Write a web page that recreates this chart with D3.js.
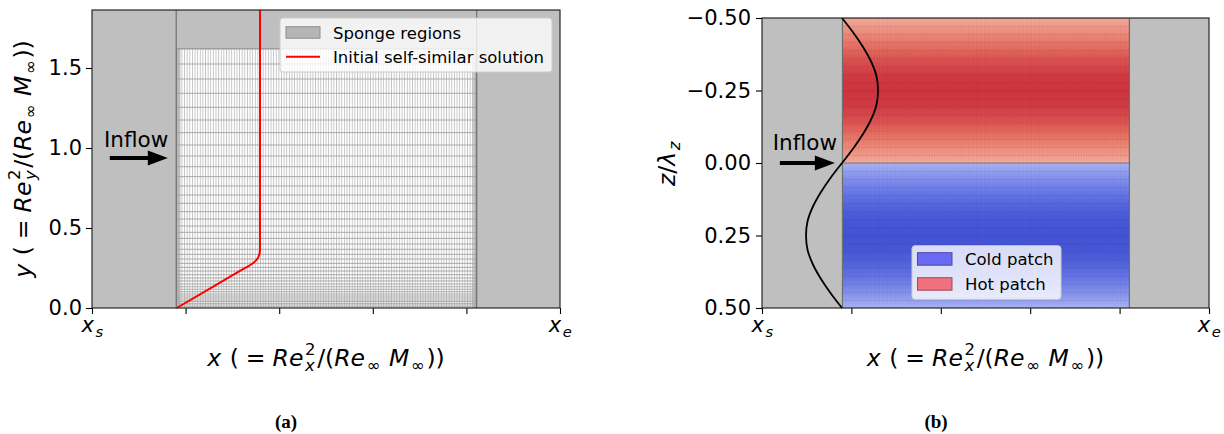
<!DOCTYPE html>
<html>
<head>
<meta charset="utf-8">
<script src="https://cdn.jsdelivr.net/npm/d3@7"></script>
<style>
  body { margin: 0; background: #fff; }
  svg { display: block; }
  text { font-family: "DejaVu Sans", sans-serif; fill: #000; }
  text.caption { font-family: "Liberation Serif", "Times New Roman", serif; font-weight: bold; }
</style>
</head>
<body>
<svg id="fig" width="1224" height="434"></svg>
<script>
// ---------------- data ----------------
// streamwise axis is normalised: 0 = x_s, 1 = x_e
const xTicks = [0, 0.2, 0.4, 0.6, 0.8, 1.0];
const xTickNames = { 0: "s", 1: "e" };          // x_s, x_e
const yTicksA = [0.0, 0.5, 1.0, 1.5];
const zTicksB = [-0.5, -0.25, 0.0, 0.25, 0.5];
const yMaxA = 1.8625;

// sponge layers
const spongeStart = 0.18;
const spongeEnd = 0.822;
const spongeTopY = 1.62;

// wall-normal mesh lines (stretched towards the wall)
const meshY = [1.62, 1.525, 1.431, 1.342, 1.254, 1.175, 1.096, 1.019, 0.95, 0.883,
  0.821, 0.7625, 0.706, 0.654, 0.602, 0.556, 0.5125, 0.473, 0.435, 0.4,
  0.367, 0.335, 0.306, 0.279, 0.254, 0.231, 0.208, 0.1875, 0.169, 0.15,
  0.133, 0.117, 0.102, 0.0875, 0.075, 0.0625, 0.05, 0.04, 0.029, 0.019, 0.008];
// streamwise lines clustered at inlet / outlet
const meshXEdge = [0.1808, 0.1818, 0.1832, 0.1852, 0.1878, 0.8142, 0.8168, 0.8188, 0.8203, 0.8213];

// initial self-similar profile (x position vs y)
const profileX = [0.181, 0.259, 0.309, 0.345, 0.354, 0.3575, 0.359, 0.359, 0.359];
const profileY = [0.0, 0.133, 0.22, 0.283, 0.31, 0.335, 0.365, 0.45, 1.8625];

// spanwise inflow perturbation (x position vs z/lambda_z)
const spanZ = [-0.5, -0.45, -0.4, -0.35, -0.3, -0.25, -0.2, -0.15, -0.1, -0.05, 0.0,
  0.05, 0.1, 0.15, 0.2, 0.25, 0.3, 0.35, 0.4, 0.45, 0.5];
const spanX = [0.179, 0.204, 0.226, 0.244, 0.256, 0.2595, 0.256, 0.244, 0.226, 0.204, 0.179,
  0.154, 0.132, 0.114, 0.102, 0.0985, 0.102, 0.114, 0.132, 0.154, 0.179];

// ---------------- helpers ----------------
const svg = d3.select("#fig");
const defs = svg.append("defs");

// lay out a mathtext-like label from runs; centred on (x, y)
function mathLabel(parent, runs, size, x, y, rotate) {
  const g = parent.append("g");
  const inner = g.append("g");
  let cx = 0;
  const small = size * 0.7;
  const pad = size * 0.07;
  function put(str, fs, dy, it) {
    const t = inner.append("text").attr("x", cx).attr("y", dy)
      .attr("font-size", fs).text(str);
    if (it) t.attr("font-style", "oblique");
    return t.node().getComputedTextLength();
  }
  runs.forEach(r => {
    if (r.sp !== undefined) { cx += r.sp * size; return; }
    if (r.sup !== undefined && r.sub !== undefined) {
      // stacked super/subscript in one text element
      cx += pad;
      const t = inner.append("text").attr("font-size", small);
      const s1 = t.append("tspan").attr("x", cx).attr("y", -size * 0.45).text(r.sup);
      if (r.supIt) s1.attr("font-style", "oblique");
      const w1 = s1.node().getComputedTextLength();
      const s2 = t.append("tspan").attr("x", cx).attr("y", size * 0.22).text(r.sub);
      if (r.subIt) s2.attr("font-style", "oblique");
      const w2 = s2.node().getComputedTextLength();
      cx += Math.max(w1, w2) + pad;
      return;
    }
    if (r.sup !== undefined) { cx += pad; cx += put(r.sup, small, -size * 0.45, r.supIt) + pad; return; }
    if (r.sub !== undefined) { cx += pad; cx += put(r.sub, small, size * 0.22, r.subIt) + pad; return; }
    cx += put(r.t, size, 0, r.it);
  });
  inner.attr("transform", `translate(${-cx / 2},0)`);
  g.attr("transform", `translate(${x},${y})` + (rotate ? ` rotate(${rotate})` : ""));
  return g;
}

const xTitleRuns = [
  { t: "x", it: 1 }, { sp: 0.36 }, { t: "(" }, { sp: 0.3 }, { t: "=" }, { sp: 0.3 },
  { t: "Re", it: 1 }, { sup: "2", sub: "x", subIt: 1 }, { t: "/(" },
  { t: "Re", it: 1 }, { sub: "∞" }, { sp: 0.3 }, { t: "M", it: 1 }, { sub: "∞" }, { t: "))" }
];
const yTitleRuns = [
  { t: "y", it: 1 }, { sp: 0.36 }, { t: "(" }, { sp: 0.3 }, { t: "=" }, { sp: 0.3 },
  { t: "Re", it: 1 }, { sup: "2", sub: "y", subIt: 1 }, { t: "/(" },
  { t: "Re", it: 1 }, { sub: "∞" }, { sp: 0.3 }, { t: "M", it: 1 }, { sub: "∞" }, { t: "))" }
];
const zTitleRuns = [{ t: "z", it: 1 }, { t: "/" }, { t: "λ", it: 1 }, { sub: "z", subIt: 1 }];

function arrow(g, x0, x1, y, headLen, headHalf, shaft) {
  const xb = x1 - headLen;
  g.append("path")
    .attr("d", `M${x0},${y - shaft / 2}L${xb},${y - shaft / 2}L${xb},${y - headHalf}L${x1},${y}` +
      `L${xb},${y + headHalf}L${xb},${y + shaft / 2}L${x0},${y + shaft / 2}Z`)
    .attr("fill", "#000");
}

function xAxisMath(g, xs, yBottom) {
  const ax = g.append("g").attr("transform", `translate(0,${yBottom})`)
    .call(d3.axisBottom(xs).tickValues(xTicks).tickSize(6).tickFormat(""));
  ax.select(".domain").remove();
  ax.selectAll(".tick line").attr("stroke", "#000").attr("stroke-width", 1.1);
  Object.keys(xTickNames).forEach(k => {
    mathLabel(g, [{ t: "x", it: 1 }, { sub: xTickNames[k], subIt: 1 }], 21,
      xs(+k) + 1, yBottom + 24);
  });
}

const SPONGE = "#bfbfbf";
const EDGE = "#6f6f6f";

// ================= panel (a) =================
const A = { x0: 92, x1: 560, y0: 10, y1: 308 };
const xA = d3.scaleLinear().domain([0, 1]).range([A.x0, A.x1]);
const yA = d3.scaleLinear().domain([0, yMaxA]).range([A.y1, A.y0]);
const gA = svg.append("g");

// fine streamwise mesh texture
const hatch = defs.append("pattern").attr("id", "meshHatch")
  .attr("patternUnits", "userSpaceOnUse").attr("width", 2.62).attr("height", 10)
  .attr("patternTransform", `translate(${xA(spongeStart)},0)`);
hatch.append("rect").attr("width", 2.62).attr("height", 10).attr("fill", "#fff");
hatch.append("rect").attr("x", 0).attr("width", 0.9).attr("height", 10).attr("fill", "#c2c2c2");

gA.append("rect")
  .attr("x", xA(spongeStart)).attr("y", yA(spongeTopY))
  .attr("width", xA(spongeEnd) - xA(spongeStart)).attr("height", yA(0) - yA(spongeTopY))
  .attr("fill", "url(#meshHatch)");

gA.append("g").selectAll("line").data(meshXEdge).join("line")
  .attr("x1", d => xA(d)).attr("x2", d => xA(d))
  .attr("y1", yA(spongeTopY)).attr("y2", yA(0))
  .attr("stroke", "#a8a8a8").attr("stroke-width", 0.8);

gA.append("g").selectAll("line").data(meshY).join("line")
  .attr("x1", xA(spongeStart)).attr("x2", xA(spongeEnd))
  .attr("y1", d => yA(d)).attr("y2", d => yA(d))
  .attr("stroke", "#a3a3a3").attr("stroke-width", 0.9);

// sponge regions
const spongesA = [
  { x0: 0, x1: spongeStart, y0: 0, y1: yMaxA },
  { x0: spongeEnd, x1: 1, y0: 0, y1: yMaxA },
  { x0: spongeStart, x1: spongeEnd, y0: spongeTopY, y1: yMaxA }
];
gA.append("g").selectAll("rect").data(spongesA).join("rect")
  .attr("x", d => xA(d.x0)).attr("y", d => yA(d.y1))
  .attr("width", d => xA(d.x1) - xA(d.x0)).attr("height", d => yA(d.y0) - yA(d.y1))
  .attr("fill", SPONGE);
[spongeStart, spongeEnd].forEach(v => {
  gA.append("line").attr("x1", xA(v)).attr("x2", xA(v)).attr("y1", A.y0).attr("y2", A.y1)
    .attr("stroke", EDGE).attr("stroke-width", 1.2);
});
gA.append("line").attr("x1", xA(spongeStart)).attr("x2", xA(spongeEnd))
  .attr("y1", yA(spongeTopY)).attr("y2", yA(spongeTopY))
  .attr("stroke", "#8a8a8a").attr("stroke-width", 0.9);

// self-similar profile
const profile = profileX.map((x, i) => ({ x, y: profileY[i] }));
gA.append("path").datum(profile)
  .attr("d", d3.line().x(d => xA(d.x)).y(d => yA(d.y)).curve(d3.curveMonotoneY))
  .attr("fill", "none").attr("stroke", "#ff0000").attr("stroke-width", 2);

// inflow annotation
gA.append("text").attr("x", xA(0.0256)).attr("y", yA(1.006)).attr("font-size", 21.5).text("Inflow");
arrow(gA, xA(0.038), xA(0.162), yA(0.9375), 20, 7.5, 4);

// legend
const legA = gA.append("g").attr("transform", `translate(${A.x1 - 280},${A.y0 + 8})`);
legA.append("rect").attr("width", 272).attr("height", 54).attr("rx", 3)
  .attr("fill", "#fff").attr("fill-opacity", 0.8).attr("stroke", "#cccccc").attr("stroke-width", 1);
legA.append("rect").attr("x", 6).attr("y", 8.7).attr("width", 34).attr("height", 11.5)
  .attr("fill", "#b5b5b5").attr("stroke", "#8e8e8e").attr("stroke-width", 1);
legA.append("line").attr("x1", 6).attr("x2", 40).attr("y1", 38.7).attr("y2", 38.7)
  .attr("stroke", "#ff0000").attr("stroke-width", 2);
legA.append("text").attr("x", 53).attr("y", 20.5).attr("font-size", 16.5).text("Sponge regions");
legA.append("text").attr("x", 53).attr("y", 44.8).attr("font-size", 16.5).text("Initial self-similar solution");

// axes
gA.append("g").attr("transform", `translate(${A.x0},0)`)
  .call(d3.axisLeft(yA).tickValues(yTicksA).tickSize(6).tickPadding(4).tickFormat(d3.format(".1f")))
  .call(g => {
    g.select(".domain").remove();
    g.selectAll(".tick line").attr("stroke", "#000").attr("stroke-width", 1.1);
    g.selectAll(".tick text").attr("font-size", 21).attr("fill", "#000");
  });
xAxisMath(gA, xA, A.y1);
gA.append("rect").attr("x", A.x0).attr("y", A.y0).attr("width", A.x1 - A.x0).attr("height", A.y1 - A.y0)
  .attr("fill", "none").attr("stroke", "#262626").attr("stroke-width", 1.2);

mathLabel(gA, xTitleRuns, 23.5, (A.x0 + A.x1) / 2, 366);
mathLabel(gA, yTitleRuns, 23.5, 31, (A.y0 + A.y1) / 2, -90);
gA.append("text").attr("class", "caption").attr("x", 286).attr("y", 428).attr("text-anchor", "middle")
  .attr("font-size", 19).text("(a)");

// ================= panel (b) =================
const B = { x0: 762, x1: 1209, y0: 18, y1: 308 };
const xB = d3.scaleLinear().domain([0, 1]).range([B.x0, B.x1]);
const zB = d3.scaleLinear().domain([-0.5, 0.5]).range([B.y0, B.y1]);
const gB = svg.append("g");

// perturbation amplitude along z, taken from the inflow profile
const x0Span = spanX[0];
const ampMax = d3.max(spanX, v => Math.abs(v - x0Span));
const hotColor = d3.scaleLinear().domain([0, 0.5, 1]).range(["#f4ab9d", "#ea7a68", "#d0343f"]);
const coldColor = d3.scaleLinear().domain([0, 0.5, 1]).range(["#a9b3f4", "#7080ea", "#4353d6"]);

function patchGradient(id, zLo, zHi, colour) {
  const grad = defs.append("linearGradient").attr("id", id)
    .attr("gradientUnits", "userSpaceOnUse")
    .attr("x1", 0).attr("x2", 0).attr("y1", zB(zLo)).attr("y2", zB(zHi));
  spanZ.forEach((z, i) => {
    if (z < zLo - 1e-9 || z > zHi + 1e-9) return;
    grad.append("stop").attr("offset", (z - zLo) / (zHi - zLo))
      .attr("stop-color", colour(Math.abs(spanX[i] - x0Span) / ampMax));
  });
}
patchGradient("hotGrad", -0.5, 0, hotColor);
patchGradient("coldGrad", 0, 0.5, coldColor);

const patches = [
  { z0: -0.5, z1: 0, fill: "url(#hotGrad)" },
  { z0: 0, z1: 0.5, fill: "url(#coldGrad)" }
];
gB.append("g").selectAll("rect").data(patches).join("rect")
  .attr("x", xB(spongeStart)).attr("y", d => zB(d.z0))
  .attr("width", xB(spongeEnd) - xB(spongeStart)).attr("height", d => zB(d.z1) - zB(d.z0))
  .attr("fill", d => d.fill);

// mesh texture on the patches
const rowH = (zB(0.5) - zB(-0.5)) / 36;
const rows = defs.append("pattern").attr("id", "rowLines")
  .attr("patternUnits", "userSpaceOnUse").attr("width", 10).attr("height", rowH)
  .attr("patternTransform", `translate(0,${B.y0})`);
rows.append("rect").attr("width", 10).attr("height", 0.9).attr("fill", "#000").attr("fill-opacity", 0.07);
const cols = defs.append("pattern").attr("id", "colLines")
  .attr("patternUnits", "userSpaceOnUse").attr("width", 2.62).attr("height", 10)
  .attr("patternTransform", `translate(${xB(spongeStart)},0)`);
cols.append("rect").attr("width", 0.8).attr("height", 10).attr("fill", "#000").attr("fill-opacity", 0.04);
["url(#rowLines)", "url(#colLines)"].forEach(f => {
  gB.append("rect").attr("x", xB(spongeStart)).attr("y", zB(-0.5))
    .attr("width", xB(spongeEnd) - xB(spongeStart)).attr("height", zB(0.5) - zB(-0.5))
    .attr("fill", f);
});
gB.append("line").attr("x1", xB(spongeStart)).attr("x2", xB(spongeEnd))
  .attr("y1", zB(0)).attr("y2", zB(0)).attr("stroke", "#7a7a7a").attr("stroke-width", 1);

// sponges
const spongesB = [{ x0: 0, x1: spongeStart }, { x0: spongeEnd, x1: 1 }];
gB.append("g").selectAll("rect").data(spongesB).join("rect")
  .attr("x", d => xB(d.x0)).attr("y", B.y0)
  .attr("width", d => xB(d.x1) - xB(d.x0)).attr("height", B.y1 - B.y0)
  .attr("fill", SPONGE);
[spongeStart, spongeEnd].forEach(v => {
  gB.append("line").attr("x1", xB(v)).attr("x2", xB(v)).attr("y1", B.y0).attr("y2", B.y1)
    .attr("stroke", EDGE).attr("stroke-width", 1.2);
});

// inflow perturbation profile
const span = spanZ.map((z, i) => ({ z, x: spanX[i] }));
gB.append("path").datum(span)
  .attr("d", d3.line().x(d => xB(d.x)).y(d => zB(d.z)).curve(d3.curveCatmullRom))
  .attr("fill", "none").attr("stroke", "#000").attr("stroke-width", 1.8);

gB.append("text").attr("x", xB(0.024)).attr("y", zB(-0.044)).attr("font-size", 21.5).text("Inflow");
arrow(gB, xB(0.04), xB(0.163), zB(0), 20, 7.5, 4);

// legend
const legB = gB.append("g").attr("transform", `translate(912,245.7)`);
legB.append("rect").attr("width", 149).attr("height", 53.6).attr("rx", 3)
  .attr("fill", "#fff").attr("fill-opacity", 0.8).attr("stroke", "#cccccc").attr("stroke-width", 1);
legB.append("rect").attr("x", 5.5).attr("y", 7).attr("width", 34.5).attr("height", 12.5)
  .attr("fill", "#6a6af4").attr("stroke", "#4b4b9c").attr("stroke-width", 1);
legB.append("rect").attr("x", 5.5).attr("y", 32).attr("width", 34.5).attr("height", 12.5)
  .attr("fill", "#f0717e").attr("stroke", "#9c4c54").attr("stroke-width", 1);
legB.append("text").attr("x", 53).attr("y", 19.8).attr("font-size", 16.5).text("Cold patch");
legB.append("text").attr("x", 53).attr("y", 44.8).attr("font-size", 16.5).text("Hot patch");

// axes
gB.append("g").attr("transform", `translate(${B.x0},0)`)
  .call(d3.axisLeft(zB).tickValues(zTicksB).tickSize(6).tickPadding(5).tickFormat(d3.format(".2f")))
  .call(g => {
    g.select(".domain").remove();
    g.selectAll(".tick line").attr("stroke", "#000").attr("stroke-width", 1.1);
    g.selectAll(".tick text").attr("font-size", 21).attr("fill", "#000");
  });
xAxisMath(gB, xB, B.y1);
gB.append("rect").attr("x", B.x0).attr("y", B.y0).attr("width", B.x1 - B.x0).attr("height", B.y1 - B.y0)
  .attr("fill", "none").attr("stroke", "#262626").attr("stroke-width", 1.2);

mathLabel(gB, xTitleRuns, 23.5, (B.x0 + B.x1) / 2, 366);
mathLabel(gB, zTitleRuns, 23.5, 675, (B.y0 + B.y1) / 2, -90);
gB.append("text").attr("class", "caption").attr("x", 936).attr("y", 428).attr("text-anchor", "middle")
  .attr("font-size", 19).text("(b)");
</script>
</body>
</html>
